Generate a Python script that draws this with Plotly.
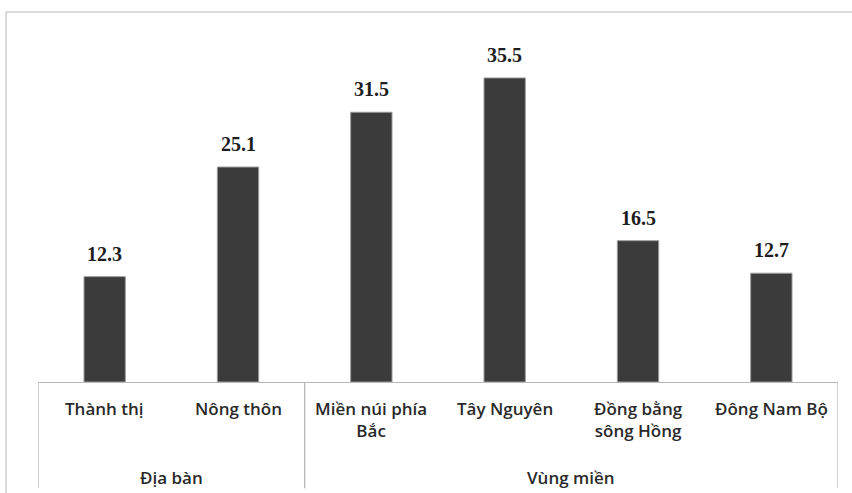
import plotly.graph_objects as go

# Poverty rate by area and by region (%)
categories = ["Thành thị", "Nông thôn", "Miền núi phía<br>Bắc", "Tây Nguyên",
              "Đồng bằng<br>sông Hồng", "Đông Nam Bộ"]
values = [12.3, 25.1, 31.5, 35.5, 16.5, 12.7]
group_names = ["Địa bàn", "Vùng miền"]
group_sizes = [2, 4]

AXIS_GRAY = "#b8b8b8"
TEXT_DARK = "#2a2a2a"

fig = go.Figure()
fig.add_trace(go.Bar(
    x=categories,
    y=values,
    marker=dict(color="#3b3b3b", line=dict(color="#9a9a9a", width=1)),
    width=0.31,
    hoverinfo="y",
))

# value labels above each bar
for c, v in zip(categories, values):
    fig.add_annotation(
        x=c, y=v, text=f"<b>{v}</b>", showarrow=False,
        yanchor="bottom", yshift=10,
        font=dict(family="Liberation Serif", size=20, color="#1e1e1e"),
    )

# category labels under the axis
for c in categories:
    fig.add_annotation(
        x=c, xref="x", y=0, yref="paper", text=c, showarrow=False,
        yanchor="top", yshift=-13,
        font=dict(family="Open Sans", size=17, color=TEXT_DARK, weight=600),
    )

# group labels and dividers between groups
start = 0
bounds = [-0.5]
for name, n in zip(group_names, group_sizes):
    center = start + (n - 1) / 2
    fig.add_annotation(
        x=center, xref="x", y=0, yref="paper", text=name, showarrow=False,
        yanchor="middle", yshift=-95,
        font=dict(family="Open Sans", size=17, color=TEXT_DARK, weight=600),
    )
    start += n
    bounds.append(start - 0.5)

for b in bounds:
    fig.add_shape(type="line", xref="x", yref="paper",
                  x0=b, x1=b, y0=0, y1=-0.302,
                  line=dict(color=AXIS_GRAY, width=1.3))

fig.update_layout(
    width=852, height=493,
    margin=dict(l=38, r=14, t=30, b=111),
    paper_bgcolor="white", plot_bgcolor="white",
    showlegend=False,
    xaxis=dict(
        type="category",
        range=[-0.5, 5.5],
        showline=True, linecolor=AXIS_GRAY, linewidth=1.3,
        showticklabels=False, ticks="",
    ),
    yaxis=dict(visible=False, range=[0, 41.1]),
)

# outer chart frame
fig.add_shape(type="rect", xref="paper", yref="paper",
              x0=-0.04, x1=1.2, y0=-0.6, y1=1.051,
              line=dict(color="#cfcfcf", width=1.5), layer="below")

fig.write_html("out.html")
